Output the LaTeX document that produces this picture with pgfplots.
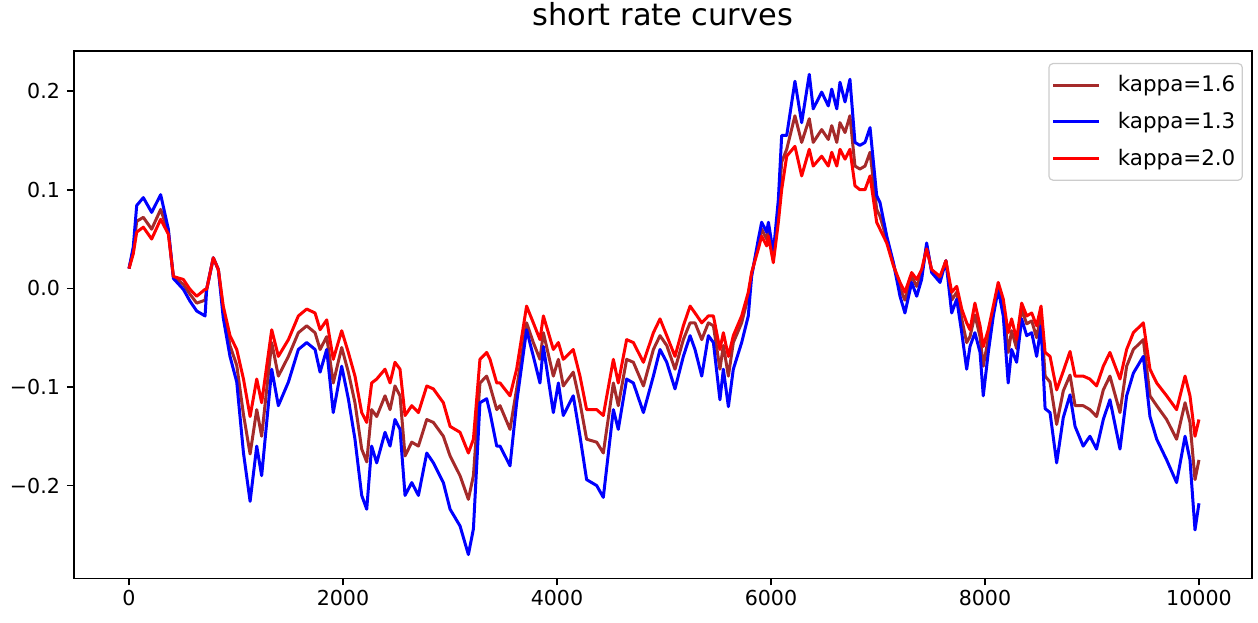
\documentclass[border=0pt]{standalone}
\usepackage{pgfplots}
\pgfplotsset{compat=1.18}
\usepackage{pgfplotstable}
\usepackage{fontspec}
\setmainfont{DejaVu Sans}
\definecolor{mplbrown}{HTML}{A52A2A}
\pgfplotstableread{
x brown blue red
0 0.020 0.020 0.020
40 0.038 0.042 0.035
72 0.068 0.084 0.057
134 0.072 0.092 0.062
212 0.060 0.077 0.050
296 0.080 0.095 0.070
368 0.057 0.060 0.055
415 0.012 0.010 0.012
508 0.004 -0.001 0.009
570 -0.006 -0.013 -0.001
633 -0.015 -0.023 -0.008
711 -0.012 -0.028 -0.001
726 -0.001 -0.001 -0.001
788 0.031 0.031 0.031
835 0.019 0.019 0.019
881 -0.022 -0.030 -0.018
944 -0.058 -0.069 -0.048
1007 -0.078 -0.095 -0.062
1070 -0.128 -0.167 -0.092
1132 -0.168 -0.216 -0.130
1194 -0.123 -0.160 -0.092
1240 -0.150 -0.190 -0.116
1334 -0.055 -0.082 -0.042
1396 -0.089 -0.119 -0.069
1490 -0.069 -0.095 -0.052
1583 -0.045 -0.062 -0.028
1661 -0.038 -0.055 -0.021
1739 -0.045 -0.062 -0.025
1786 -0.062 -0.085 -0.042
1848 -0.049 -0.062 -0.032
1909 -0.096 -0.126 -0.072
1988 -0.060 -0.079 -0.043
2050 -0.085 -0.112 -0.065
2112 -0.116 -0.153 -0.089
2175 -0.163 -0.210 -0.126
2222 -0.176 -0.224 -0.136
2268 -0.123 -0.160 -0.096
2315 -0.130 -0.177 -0.092
2393 -0.109 -0.146 -0.082
2440 -0.123 -0.160 -0.096
2486 -0.099 -0.133 -0.075
2533 -0.109 -0.143 -0.082
2580 -0.170 -0.210 -0.129
2643 -0.156 -0.197 -0.119
2705 -0.160 -0.210 -0.126
2783 -0.133 -0.167 -0.099
2845 -0.136 -0.177 -0.102
2938 -0.150 -0.197 -0.116
3001 -0.170 -0.224 -0.140
3094 -0.190 -0.241 -0.146
3172 -0.214 -0.270 -0.167
3219 -0.190 -0.244 -0.153
3280 -0.096 -0.116 -0.072
3343 -0.089 -0.112 -0.065
3374 -0.099 -0.126 -0.072
3437 -0.123 -0.160 -0.096
3468 -0.119 -0.160 -0.096
3561 -0.143 -0.180 -0.109
3623 -0.102 -0.116 -0.082
3716 -0.035 -0.042 -0.018
3779 -0.055 -0.069 -0.035
3841 -0.072 -0.096 -0.052
3873 -0.045 -0.059 -0.028
3966 -0.089 -0.126 -0.062
4013 -0.072 -0.096 -0.055
4059 -0.099 -0.129 -0.072
4152 -0.085 -0.109 -0.062
4215 -0.116 -0.150 -0.089
4277 -0.153 -0.194 -0.123
4371 -0.156 -0.200 -0.123
4433 -0.167 -0.212 -0.129
4527 -0.096 -0.123 -0.072
4573 -0.119 -0.143 -0.096
4651 -0.072 -0.092 -0.052
4714 -0.075 -0.096 -0.055
4808 -0.099 -0.126 -0.075
4901 -0.062 -0.089 -0.045
4963 -0.048 -0.062 -0.031
5026 -0.058 -0.075 -0.048
5103 -0.082 -0.102 -0.069
5181 -0.052 -0.069 -0.038
5244 -0.035 -0.048 -0.018
5290 -0.035 -0.062 -0.025
5353 -0.052 -0.089 -0.035
5415 -0.035 -0.048 -0.028
5462 -0.038 -0.055 -0.028
5523 -0.082 -0.113 -0.062
5555 -0.058 -0.082 -0.045
5602 -0.089 -0.120 -0.069
5648 -0.055 -0.082 -0.048
5726 -0.035 -0.055 -0.028
5788 -0.008 -0.028 -0.004
5819 0.014 0.012 0.016
5882 0.045 0.050 0.040
5913 0.060 0.067 0.053
5960 0.050 0.057 0.043
5976 0.060 0.067 0.053
6022 0.031 0.036 0.026
6069 0.078 0.090 0.067
6100 0.128 0.155 0.100
6147 0.141 0.155 0.134
6224 0.175 0.210 0.144
6287 0.148 0.168 0.114
6358 0.172 0.217 0.141
6395 0.148 0.182 0.124
6474 0.161 0.199 0.134
6536 0.151 0.185 0.124
6568 0.165 0.202 0.138
6615 0.148 0.182 0.124
6645 0.168 0.209 0.141
6692 0.158 0.189 0.131
6738 0.175 0.212 0.141
6785 0.124 0.148 0.104
6831 0.121 0.145 0.100
6879 0.124 0.148 0.100
6926 0.138 0.163 0.114
6988 0.080 0.094 0.067
7019 0.073 0.087 0.060
7082 0.050 0.053 0.046
7144 0.025 0.026 0.023
7206 0.000 -0.008 0.006
7252 -0.012 -0.025 -0.004
7315 0.012 0.006 0.016
7362 0.002 -0.008 0.009
7408 0.015 0.009 0.019
7455 0.043 0.046 0.040
7502 0.018 0.016 0.019
7580 0.010 0.006 0.012
7635 0.028 0.028 0.028
7689 -0.012 -0.025 -0.004
7736 -0.004 -0.011 0.002
7783 -0.031 -0.045 -0.021
7829 -0.055 -0.082 -0.035
7860 -0.049 -0.059 -0.042
7906 -0.027 -0.045 -0.015
7954 -0.049 -0.065 -0.038
7984 -0.079 -0.109 -0.059
8031 -0.051 -0.065 -0.042
8078 -0.022 -0.028 -0.018
8124 0.003 -0.001 0.006
8171 -0.018 -0.028 -0.011
8217 -0.065 -0.096 -0.045
8249 -0.043 -0.062 -0.031
8296 -0.061 -0.075 -0.052
8343 -0.021 -0.031 -0.015
8390 -0.036 -0.048 -0.028
8437 -0.033 -0.045 -0.025
8483 -0.050 -0.069 -0.038
8524 -0.026 -0.038 -0.018
8562 -0.089 -0.122 -0.065
8608 -0.095 -0.126 -0.069
8670 -0.138 -0.177 -0.103
8732 -0.104 -0.131 -0.084
8795 -0.088 -0.108 -0.064
8842 -0.119 -0.140 -0.089
8918 -0.119 -0.160 -0.089
8981 -0.123 -0.150 -0.092
9043 -0.130 -0.163 -0.099
9106 -0.103 -0.133 -0.079
9168 -0.089 -0.113 -0.065
9262 -0.126 -0.163 -0.092
9324 -0.079 -0.109 -0.062
9387 -0.062 -0.086 -0.045
9480 -0.052 -0.069 -0.035
9542 -0.109 -0.130 -0.082
9605 -0.119 -0.153 -0.096
9698 -0.133 -0.174 -0.109
9791 -0.153 -0.197 -0.123
9870 -0.116 -0.150 -0.089
9916 -0.136 -0.174 -0.109
9963 -0.194 -0.245 -0.150
10000 -0.174 -0.218 -0.133
}\data
\begin{document}
\begin{tikzpicture}
\begin{axis}[
  scale only axis, width=588.9pt, height=263.7pt,
  xmin=-514, xmax=10493, ymin=-0.2941, ymax=0.2407,
  scaled x ticks=false, scaled y ticks=false,
  xtick={0,2000,4000,6000,8000,10000},
  xticklabels={0,2000,4000,6000,8000,10000},
  ytick={-0.2,-0.1,0,0.1,0.2},
  yticklabels={−0.2,−0.1,0.0,0.1,0.2},
  tick align=outside, xtick pos=left, ytick pos=left,
  major tick length=3.5pt,
  tick style={black, line width=0.8pt},
  axis line style={line width=0.8pt},
  ticklabel style={font=\fontsize{10.3}{12}\selectfont},
  xticklabel style={yshift=1pt},
  title={short rate curves},
  title style={font=\fontsize{15.2}{18}\selectfont, at={(0.5,1)}, anchor=base, yshift=6.85pt},
  legend cell align=left,
  legend image code/.code={\draw[#1] (0pt,0pt) -- (23pt,0pt);},
  legend style={at={(1,1)}, anchor=north east, xshift=-4.4pt, yshift=-6pt,
    draw=black!20, rounded corners=2pt, line width=0.6pt,
    font=\fontsize{10.7}{12.5}\selectfont, inner xsep=1.5pt, inner ysep=4pt, row sep=4.7pt,
    /tikz/every odd column/.append style={column sep=6.5pt}},
]
\addplot[mplbrown, line width=1.5pt, line join=round] table[x=x,y=brown]{\data};
\addplot[blue, line width=1.5pt, line join=round] table[x=x,y=blue]{\data};
\addplot[red, line width=1.5pt, line join=round] table[x=x,y=red]{\data};
\legend{kappa=1.6,kappa=1.3,kappa=2.0}
\end{axis}
\pgfresetboundingbox
\path[use as bounding box] ([xshift=-37pt,yshift=-21.85pt]current axis.south west) rectangle ([xshift=3.15pt,yshift=25.5pt]current axis.north east);
\end{tikzpicture}
\end{document}
